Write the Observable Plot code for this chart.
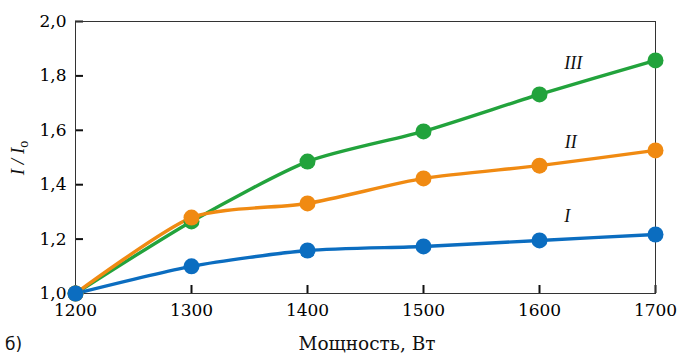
<!DOCTYPE html>
<html><head><meta charset="utf-8">
<script src="https://cdn.jsdelivr.net/npm/d3@7"></script>
<script src="https://cdn.jsdelivr.net/npm/@observablehq/plot@0.6"></script>
<style>html,body{margin:0;padding:0;background:#fff}#chart svg{display:block}</style>
</head><body><div id="chart"></div>
<script>
const power = [1200, 1300, 1400, 1500, 1600, 1700];
const seriesI = [1.00, 1.100, 1.158, 1.173, 1.195, 1.217];
const seriesII = [1.00, 1.279, 1.331, 1.423, 1.470, 1.526];
const seriesIII = [1.00, 1.265, 1.485, 1.596, 1.732, 1.857];
const seriesNames = ["I", "II", "III"];
const seriesColors = ["#0b6dc0", "#f08a12", "#22a33c"];
const labelX = [1624, 1627, 1629];
const labelY = [1.283, 1.555, 1.846];
const xTicks = [1200, 1300, 1400, 1500, 1600, 1700];
const yTicks = [1.0, 1.2, 1.4, 1.6, 1.8, 2.0];
const xLabel = "Мощность, Вт";
const panelLabel = "б)";

const values = [seriesI, seriesII, seriesIII];
const table = values.map((vals, i) => power.map((p, j) => ({series: seriesNames[i], power: p, value: vals[j]})));
const labels = seriesNames.map((n, i) => ({name: n, x: labelX[i], y: labelY[i]}));
const order = [2, 1, 0];

const plot = Plot.plot({
  width: 680, height: 354,
  marginLeft: 75, marginRight: 25, marginTop: 21, marginBottom: 61,
  x: {domain: [1200, 1700]},
  y: {domain: [1, 2]},
  marks: [
    Plot.axisX({ticks: xTicks, tickSize: 8, dy: -8, tickPadding: 10, tickFormat: d => String(d), stroke: "#111", strokeWidth: 2, fontSize: 17, fontFamily: "DejaVu Serif", label: null}),
    Plot.axisY({ticks: yTicks, tickSize: 8, dx: 8, tickPadding: 9, tickFormat: d => d.toFixed(1).replace(".", ","), stroke: "#111", strokeWidth: 2, fontSize: 17, fontFamily: "DejaVu Serif", label: null}),
    Plot.frame({stroke: "#333"}),
    ...order.map(i => Plot.line(table[i], {x: "power", y: "value", stroke: seriesColors[i], strokeWidth: 3.4, curve: "cardinal", tension: 0.3})),
    ...order.map(i => Plot.dot(table[i], {x: "power", y: "value", fill: seriesColors[i], r: 8})),
    Plot.text(labels, {x: "x", y: "y", text: "name", fontStyle: "italic", fontFamily: "Liberation Serif", fontSize: 18, fill: "#111"})
  ]
});
document.getElementById("chart").appendChild(plot);

const svg = d3.select(plot);
svg.append("text").attr("x", 367).attr("y", 350).attr("text-anchor", "middle")
  .attr("font-family", "DejaVu Serif").attr("font-size", 18.5).attr("fill", "#111").text(xLabel);
svg.append("text").attr("x", 5).attr("y", 350).attr("text-anchor", "start")
  .attr("font-family", "DejaVu Sans").attr("font-size", 17).attr("fill", "#111").text(panelLabel);
const yl = svg.append("text").attr("transform", "translate(24,158) rotate(-90)").attr("text-anchor", "middle")
  .attr("font-family", "Liberation Serif").attr("font-style", "italic").attr("font-size", 19).attr("fill", "#111");
yl.append("tspan").text("I / I");
yl.append("tspan").attr("font-size", 14).attr("dy", 4).attr("font-style", "normal").text("o");
</script>
</body></html>
